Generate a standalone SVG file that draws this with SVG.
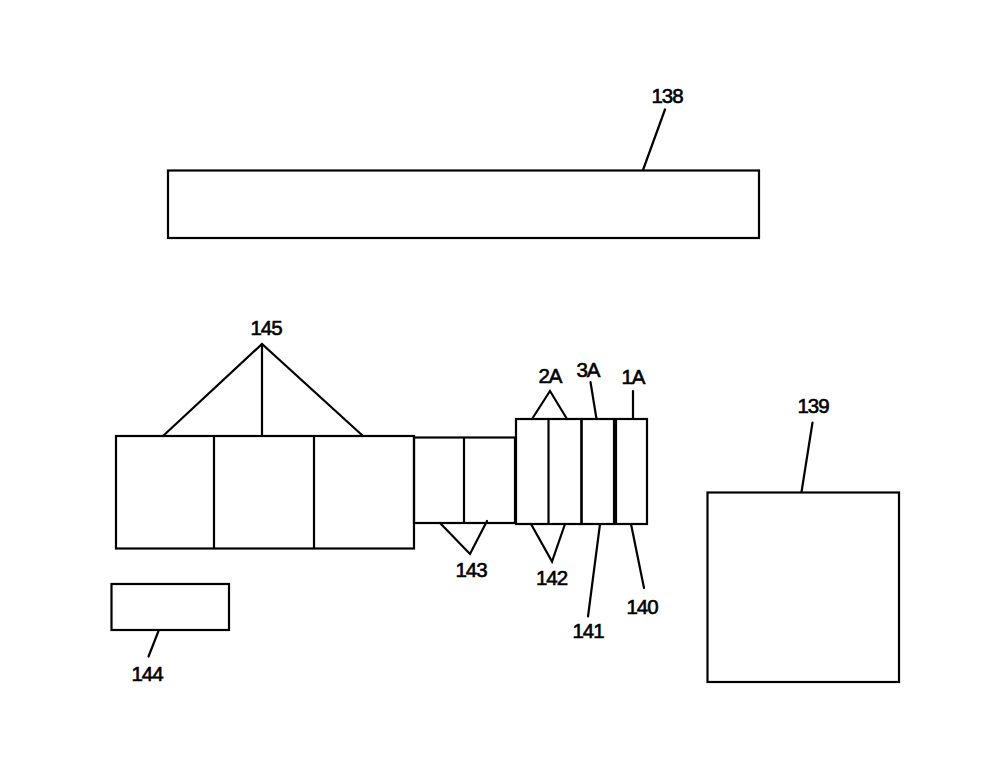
<svg xmlns="http://www.w3.org/2000/svg" width="1000" height="759" viewBox="0 0 1000 759">
<style>
.b{fill:none;stroke:#000;stroke-width:2.2}
.l{fill:none;stroke:#000;stroke-width:2.2;stroke-linecap:round;stroke-linejoin:miter}
text{font-family:"Liberation Sans",Arial,sans-serif;font-size:20.5px;letter-spacing:-1px;fill:#000;text-anchor:middle;stroke:#000;stroke-width:0.6}
</style>
<rect width="1000" height="759" fill="#fff"/>
<g id="n138"><rect class="b" x="168" y="170.5" width="591" height="67.5"/><text x="667" y="102.5">138</text></g>
<g id="n139"><rect class="b" x="707.5" y="492.5" width="191.5" height="189.5"/><text x="813" y="413">139</text></g>
<g id="n144"><rect class="b" x="111.5" y="584" width="117.5" height="46"/><text x="147" y="681">144</text></g>
<g id="n145"><rect class="b" x="116" y="436" width="298" height="112.5"/><line class="b" x1="214" y1="436" x2="214" y2="548.5"/><line class="b" x1="314" y1="436" x2="314" y2="548.5"/><text x="266" y="335">145</text></g>
<g id="n143"><rect class="b" x="414" y="437.5" width="101" height="85.5"/><line class="b" x1="464" y1="437.5" x2="464" y2="523"/><text x="471" y="577">143</text></g>
<g id="n142"><rect class="b" x="516" y="419" width="65.5" height="105"/><line class="b" x1="548.5" y1="419" x2="548.5" y2="524"/><text x="551.5" y="585">142</text><text x="550" y="383">2A</text></g>
<g id="n141"><rect class="b" x="581.5" y="419" width="32.5" height="105"/><text x="588" y="638">141</text><text x="588" y="377">3A</text></g>
<g id="n140"><rect class="b" x="616" y="419" width="31" height="105"/><text x="642" y="613.5">140</text><text x="633" y="383.5">1A</text></g>
<g id="connectors">
<line class="l" x1="643" y1="170" x2="665" y2="109.5"/>
<line class="l" x1="801.5" y1="492" x2="812.5" y2="422.5"/>
<line class="l" x1="158.5" y1="631" x2="148.5" y2="656.5"/>
<polyline class="l" points="163,436 262,344 363,436"/>
<line class="l" x1="262" y1="344" x2="262" y2="436"/>
<polyline class="l" points="440,523 470,554 487,521"/>
<polyline class="l" points="531,524 552,561.5 565,524"/>
<polyline class="l" points="532,419 550,391 567,419"/>
<line class="l" x1="596.5" y1="419" x2="590.5" y2="382"/>
<line class="l" x1="633" y1="419" x2="633" y2="391"/>
<line class="l" x1="600" y1="524" x2="588" y2="616.5"/>
<line class="l" x1="631" y1="524" x2="644" y2="588"/>
</g>
</svg>
